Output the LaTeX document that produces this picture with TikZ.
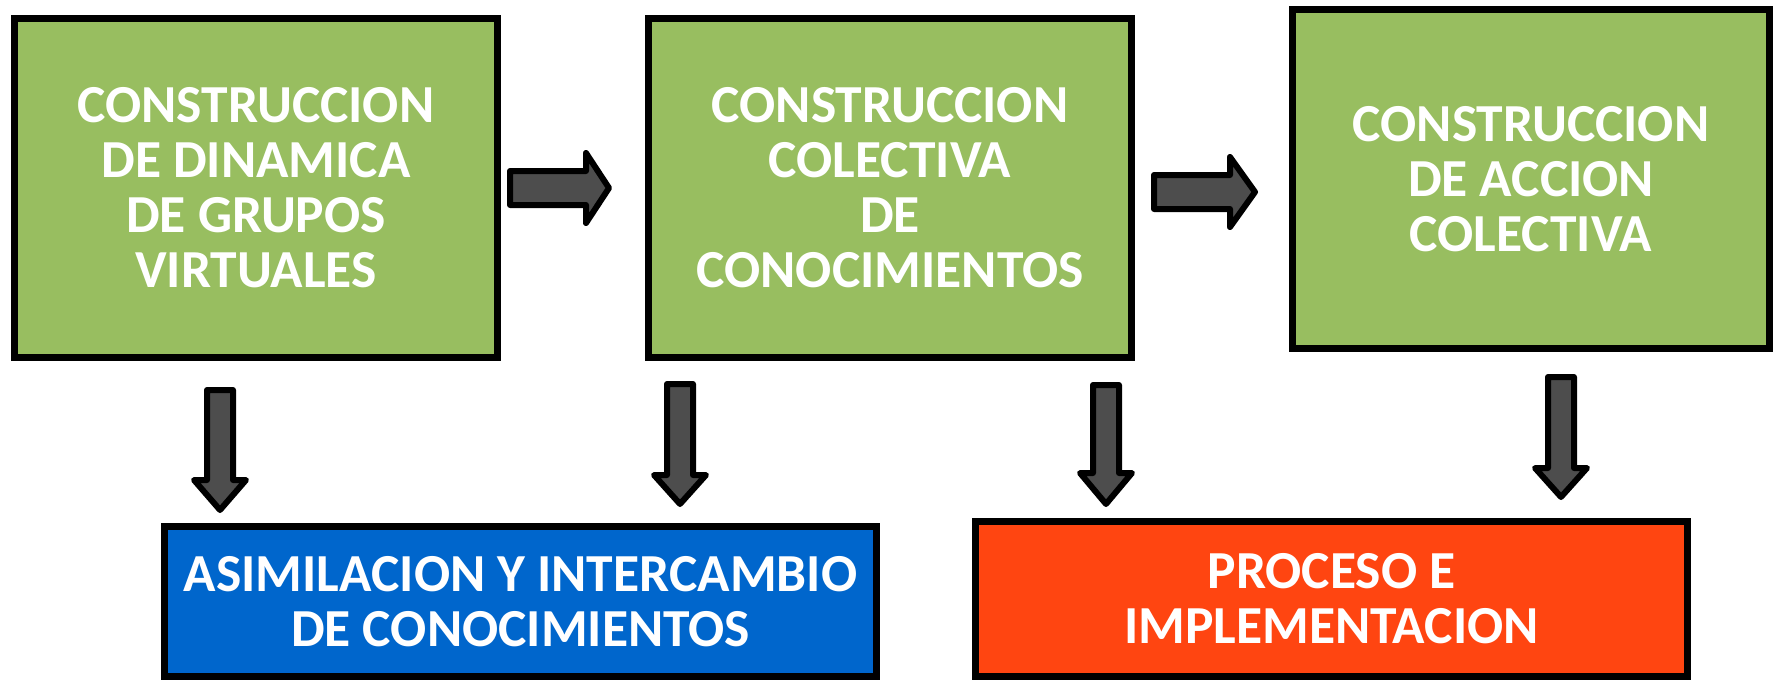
\documentclass[tikz,border=0pt]{standalone}
\usepackage{fontspec}
\setmainfont{Carlito}
\definecolor{boxgreen}{RGB}{152,190,96}
\definecolor{boxblue}{RGB}{0,102,204}
\definecolor{boxred}{RGB}{255,69,17}
\definecolor{arrowgray}{RGB}{77,77,77}
\tikzset{
  x=1pt, y=-1pt,
  stagebox/.style={draw=black, line width=7pt, inner sep=0pt, align=center,
    text=white, font=\bfseries\fontsize{53.5}{55}\selectfont},
  greenbox/.style={stagebox, fill=boxgreen, minimum width=483pt, minimum height=339pt},
  blockarrow/.style={draw=black, fill=arrowgray, line width=6pt, line join=round}
}
\begin{document}
\begin{tikzpicture}
\useasboundingbox[fill=white] (0,0) rectangle (1773,680);
\node[greenbox] (b1) at (256,188) {CONSTRUCCION\\DE DINAMICA\\DE GRUPOS\\VIRTUALES};
\node[greenbox] (b2) at (890,188) {CONSTRUCCION\\COLECTIVA\\DE\\CONOCIMIENTOS};
\node[greenbox, minimum width=477pt] (b3) at (1531,179) {CONSTRUCCION\\DE ACCION\\COLECTIVA};
\node[stagebox, fill=boxblue, minimum width=712pt, minimum height=150pt] (blue) at (520.5,601.5) {ASIMILACION Y INTERCAMBIO\\DE CONOCIMIENTOS};
\node[stagebox, fill=boxred, minimum width=712pt, minimum height=155pt] (red) at (1331.5,599) {PROCESO E\\IMPLEMENTACION};
% horizontal block arrows
\draw[blockarrow] (510,171) -- (586,171) -- (586,153) -- (609,188) -- (586,223) -- (586,205) -- (510,205) -- cycle;
\draw[blockarrow] (1154,175) -- (1230,175) -- (1230,157) -- (1255,192) -- (1230,227) -- (1230,209) -- (1154,209) -- cycle;
% vertical block arrows
\draw[blockarrow] (207,390) -- (233,390) -- (233,480) -- (246,480) -- (220,510) -- (194,480) -- (207,480) -- cycle;
\draw[blockarrow] (667,384) -- (693,384) -- (693,475) -- (706,475) -- (680,504) -- (654,475) -- (667,475) -- cycle;
\draw[blockarrow] (1093,385) -- (1119,385) -- (1119,473) -- (1132,473) -- (1106,504) -- (1080,473) -- (1093,473) -- cycle;
\draw[blockarrow] (1548,377) -- (1574,377) -- (1574,468) -- (1587,468) -- (1561,497) -- (1535,468) -- (1548,468) -- cycle;
\end{tikzpicture}
\end{document}
